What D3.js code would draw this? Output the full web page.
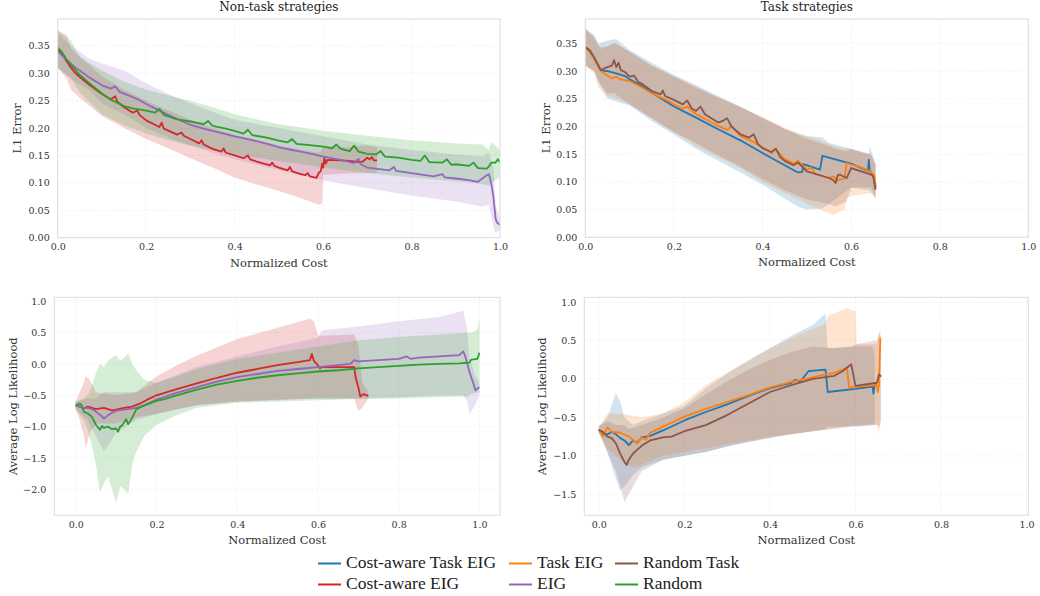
<!DOCTYPE html>
<html>
<head>
<meta charset="utf-8">
<script src="https://cdn.jsdelivr.net/npm/d3@7"></script>
<style>
  body { margin: 0; background: #fff; }
  svg { display: block; }
  .tick text { font-family: "DejaVu Serif", serif; font-size: 9.5px; fill: #333; }
</style>
</head>
<body>
<script>
// ---- data: [x, mean] lines and [x, lo, hi] bands ----

// L1 error, non-task strategies
var l1CostEigLine = [[0,0.343],[0.01,0.335],[0.02,0.322],[0.03,0.31],[0.04,0.3],[0.05,0.293],[0.07,0.28],[0.1,0.262],[0.12,0.252],[0.13,0.258],[0.135,0.248],[0.15,0.238],[0.17,0.228],[0.18,0.232],[0.185,0.224],[0.2,0.214],[0.23,0.202],[0.235,0.21],[0.24,0.199],[0.27,0.188],[0.28,0.192],[0.285,0.186],[0.3,0.18],[0.32,0.172],[0.325,0.178],[0.33,0.17],[0.35,0.162],[0.37,0.157],[0.375,0.163],[0.38,0.155],[0.4,0.15],[0.42,0.145],[0.43,0.15],[0.435,0.143],[0.45,0.139],[0.48,0.132],[0.485,0.137],[0.49,0.131],[0.5,0.128],[0.52,0.123],[0.525,0.129],[0.53,0.121],[0.55,0.116],[0.56,0.114],[0.565,0.118],[0.57,0.112],[0.585,0.109],[0.59,0.118],[0.595,0.122],[0.598,0.135],[0.6,0.128],[0.603,0.145],[0.606,0.135],[0.61,0.142],[0.64,0.141],[0.66,0.14],[0.68,0.138],[0.69,0.139],[0.7,0.146],[0.705,0.143],[0.71,0.147],[0.715,0.141],[0.722,0.141]];
var l1CostEigBand = [[0,0.31,0.378],[0.02,0.29,0.37],[0.03,0.27,0.345],[0.05,0.255,0.33],[0.1,0.222,0.295],[0.15,0.2,0.27],[0.2,0.18,0.25],[0.25,0.163,0.232],[0.3,0.145,0.215],[0.35,0.128,0.2],[0.4,0.11,0.188],[0.45,0.097,0.178],[0.5,0.085,0.168],[0.55,0.072,0.16],[0.59,0.06,0.155],[0.598,0.062,0.16],[0.6,0.115,0.168],[0.65,0.117,0.165],[0.7,0.118,0.168],[0.722,0.118,0.165]];

var l1EigLine = [[0,0.34],[0.02,0.325],[0.04,0.31],[0.05,0.305],[0.07,0.293],[0.1,0.278],[0.12,0.272],[0.13,0.276],[0.14,0.266],[0.15,0.263],[0.18,0.253],[0.2,0.244],[0.22,0.236],[0.25,0.224],[0.28,0.213],[0.3,0.206],[0.33,0.199],[0.35,0.195],[0.38,0.189],[0.4,0.185],[0.43,0.18],[0.45,0.176],[0.48,0.17],[0.5,0.165],[0.53,0.16],[0.55,0.157],[0.58,0.152],[0.6,0.148],[0.62,0.145],[0.65,0.14],[0.67,0.136],[0.68,0.144],[0.685,0.134],[0.7,0.128],[0.75,0.123],[0.76,0.129],[0.765,0.122],[0.8,0.118],[0.85,0.112],[0.87,0.116],[0.875,0.11],[0.9,0.108],[0.93,0.105],[0.95,0.102],[0.96,0.108],[0.97,0.114],[0.975,0.116],[0.98,0.1],[0.985,0.075],[0.99,0.035],[0.993,0.028],[1,0.023]];
var l1EigBand = [[0,0.31,0.372],[0.03,0.29,0.35],[0.07,0.27,0.328],[0.1,0.245,0.318],[0.15,0.225,0.305],[0.2,0.2,0.282],[0.25,0.183,0.262],[0.3,0.168,0.245],[0.35,0.155,0.23],[0.4,0.143,0.215],[0.5,0.123,0.2],[0.6,0.105,0.185],[0.7,0.09,0.17],[0.8,0.077,0.16],[0.9,0.066,0.152],[0.96,0.057,0.148],[0.975,0.06,0.155],[0.985,0.02,0.13],[0.99,0.008,0.06],[1,0.015,0.035]];

var l1RandomLine = [[0,0.347],[0.01,0.338],[0.02,0.325],[0.03,0.315],[0.05,0.297],[0.07,0.283],[0.1,0.263],[0.12,0.252],[0.15,0.24],[0.17,0.236],[0.2,0.232],[0.22,0.228],[0.23,0.235],[0.24,0.224],[0.27,0.216],[0.3,0.212],[0.33,0.207],[0.34,0.213],[0.35,0.204],[0.38,0.199],[0.4,0.195],[0.42,0.19],[0.43,0.197],[0.44,0.187],[0.47,0.183],[0.5,0.177],[0.52,0.174],[0.53,0.18],[0.54,0.171],[0.57,0.169],[0.6,0.166],[0.62,0.163],[0.63,0.17],[0.64,0.162],[0.66,0.158],[0.67,0.168],[0.68,0.157],[0.7,0.153],[0.72,0.152],[0.73,0.158],[0.74,0.148],[0.77,0.146],[0.8,0.142],[0.82,0.14],[0.83,0.15],[0.84,0.138],[0.87,0.137],[0.88,0.143],[0.89,0.133],[0.9,0.134],[0.93,0.131],[0.94,0.137],[0.95,0.127],[0.97,0.126],[0.975,0.13],[0.98,0.137],[0.99,0.137],[0.995,0.143],[1,0.137]];
var l1RandomBand = [[0,0.31,0.378],[0.03,0.29,0.36],[0.05,0.265,0.33],[0.1,0.225,0.305],[0.15,0.205,0.285],[0.2,0.19,0.27],[0.25,0.178,0.26],[0.3,0.168,0.25],[0.35,0.16,0.238],[0.4,0.152,0.225],[0.5,0.14,0.207],[0.6,0.128,0.195],[0.7,0.118,0.186],[0.8,0.11,0.178],[0.9,0.103,0.172],[0.96,0.098,0.17],[0.975,0.095,0.16],[0.98,0.1,0.175],[1,0.11,0.16]];

// L1 error, task strategies
var l1CostTaskEigLine = [[0,0.343],[0.01,0.335],[0.02,0.322],[0.035,0.301],[0.05,0.3],[0.07,0.296],[0.09,0.291],[0.1,0.285],[0.13,0.272],[0.15,0.261],[0.2,0.236],[0.25,0.216],[0.3,0.195],[0.35,0.175],[0.4,0.152],[0.45,0.13],[0.48,0.117],[0.49,0.118],[0.492,0.132],[0.53,0.122],[0.535,0.147],[0.6,0.133],[0.638,0.12],[0.64,0.14],[0.642,0.12],[0.65,0.112],[0.655,0.088]];
var l1CostTaskEigBand = [[0,0.31,0.378],[0.02,0.3,0.365],[0.03,0.28,0.35],[0.05,0.25,0.355],[0.07,0.245,0.358],[0.1,0.238,0.338],[0.15,0.21,0.315],[0.2,0.185,0.293],[0.25,0.16,0.275],[0.3,0.138,0.255],[0.35,0.117,0.236],[0.4,0.095,0.216],[0.45,0.07,0.196],[0.48,0.055,0.187],[0.5,0.05,0.183],[0.535,0.052,0.18],[0.55,0.06,0.17],[0.6,0.09,0.16],[0.64,0.085,0.15],[0.642,0.085,0.165],[0.655,0.07,0.135]];

var l1TaskEigLine = [[0,0.343],[0.01,0.335],[0.02,0.322],[0.035,0.3],[0.05,0.292],[0.06,0.287],[0.07,0.29],[0.08,0.285],[0.1,0.282],[0.12,0.274],[0.15,0.26],[0.18,0.249],[0.2,0.24],[0.22,0.232],[0.23,0.236],[0.25,0.222],[0.28,0.21],[0.3,0.201],[0.32,0.194],[0.33,0.2],[0.35,0.183],[0.38,0.172],[0.4,0.162],[0.42,0.152],[0.43,0.158],[0.45,0.141],[0.47,0.133],[0.48,0.138],[0.5,0.122],[0.51,0.126],[0.52,0.114],[0.55,0.107],[0.56,0.11],[0.57,0.103],[0.585,0.106],[0.59,0.134],[0.6,0.131],[0.62,0.127],[0.645,0.118],[0.652,0.112],[0.656,0.09]];
var l1TaskEigBand = [[0,0.31,0.375],[0.02,0.295,0.362],[0.03,0.27,0.345],[0.05,0.255,0.345],[0.07,0.25,0.35],[0.1,0.24,0.335],[0.15,0.215,0.31],[0.2,0.19,0.29],[0.25,0.165,0.272],[0.3,0.145,0.253],[0.35,0.125,0.235],[0.4,0.1,0.217],[0.45,0.08,0.198],[0.49,0.065,0.185],[0.5,0.06,0.182],[0.53,0.05,0.175],[0.56,0.04,0.165],[0.585,0.05,0.16],[0.59,0.07,0.162],[0.6,0.075,0.158],[0.645,0.08,0.148],[0.656,0.07,0.13]];

var l1RandomTaskLine = [[0,0.343],[0.01,0.338],[0.02,0.325],[0.035,0.302],[0.05,0.307],[0.06,0.31],[0.065,0.32],[0.07,0.307],[0.075,0.315],[0.08,0.302],[0.09,0.298],[0.1,0.29],[0.11,0.292],[0.12,0.28],[0.13,0.276],[0.15,0.264],[0.17,0.258],[0.175,0.265],[0.18,0.255],[0.2,0.248],[0.22,0.24],[0.23,0.247],[0.24,0.233],[0.25,0.228],[0.26,0.236],[0.27,0.222],[0.3,0.207],[0.31,0.21],[0.32,0.215],[0.33,0.2],[0.35,0.186],[0.37,0.18],[0.38,0.186],[0.39,0.168],[0.4,0.161],[0.42,0.154],[0.43,0.16],[0.44,0.145],[0.45,0.138],[0.47,0.13],[0.48,0.135],[0.5,0.119],[0.53,0.112],[0.55,0.107],[0.56,0.103],[0.565,0.098],[0.57,0.112],[0.575,0.113],[0.59,0.107],[0.6,0.125],[0.63,0.117],[0.645,0.113],[0.65,0.11],[0.655,0.086]];
var l1RandomTaskBand = [[0,0.31,0.375],[0.02,0.3,0.36],[0.035,0.275,0.34],[0.05,0.26,0.345],[0.065,0.26,0.352],[0.1,0.24,0.335],[0.15,0.215,0.31],[0.2,0.19,0.29],[0.25,0.17,0.27],[0.3,0.148,0.252],[0.35,0.128,0.235],[0.4,0.105,0.215],[0.45,0.085,0.195],[0.5,0.068,0.178],[0.55,0.06,0.165],[0.565,0.055,0.16],[0.59,0.065,0.155],[0.6,0.09,0.16],[0.645,0.09,0.15],[0.655,0.075,0.13]];

// Average log likelihood, non-task strategies
var llCostEigLine = [[0,-0.66],[0.01,-0.68],[0.02,-0.71],[0.03,-0.68],[0.05,-0.72],[0.07,-0.7],[0.09,-0.74],[0.1,-0.73],[0.12,-0.7],[0.14,-0.68],[0.16,-0.63],[0.18,-0.56],[0.2,-0.5],[0.25,-0.4],[0.3,-0.31],[0.35,-0.22],[0.4,-0.14],[0.45,-0.08],[0.5,-0.02],[0.55,0.03],[0.58,0.06],[0.585,0.16],[0.59,0.05],[0.6,-0.02],[0.605,-0.07],[0.61,-0.05],[0.65,-0.05],[0.69,-0.05],[0.693,-0.2],[0.7,-0.37],[0.705,-0.52],[0.712,-0.48],[0.725,-0.51]];
var llCostEigBand = [[0,-0.72,-0.6],[0.01,-0.9,-0.45],[0.02,-1.15,-0.3],[0.025,-1.35,-0.2],[0.035,-1.1,-0.25],[0.05,-0.95,-0.45],[0.1,-0.95,-0.5],[0.15,-0.85,-0.45],[0.2,-0.8,-0.2],[0.25,-0.72,-0.02],[0.3,-0.66,0.13],[0.4,-0.6,0.4],[0.5,-0.57,0.58],[0.58,-0.55,0.72],[0.59,-0.55,0.68],[0.6,-0.55,0.45],[0.69,-0.55,0.47],[0.7,-0.75,0.3],[0.71,-0.7,-0.3],[0.725,-0.55,-0.45]];

var llEigLine = [[0,-0.66],[0.01,-0.68],[0.02,-0.71],[0.03,-0.7],[0.04,-0.72],[0.05,-0.76],[0.06,-0.81],[0.07,-0.87],[0.08,-0.82],[0.09,-0.78],[0.1,-0.75],[0.12,-0.73],[0.15,-0.7],[0.17,-0.66],[0.2,-0.57],[0.25,-0.46],[0.3,-0.37],[0.35,-0.28],[0.4,-0.21],[0.45,-0.16],[0.5,-0.11],[0.55,-0.08],[0.6,-0.05],[0.65,-0.02],[0.68,0],[0.69,0.06],[0.7,0.04],[0.75,0.06],[0.8,0.08],[0.82,0.12],[0.83,0.08],[0.85,0.1],[0.9,0.12],[0.95,0.14],[0.96,0.2],[0.965,0.12],[0.975,-0.12],[0.985,-0.31],[0.99,-0.42],[1,-0.37]];
var llEigBand = [[0,-0.72,-0.6],[0.03,-0.9,-0.55],[0.05,-1.15,-0.55],[0.07,-1.4,-0.45],[0.09,-1.2,-0.45],[0.1,-1.1,-0.45],[0.15,-0.9,-0.45],[0.2,-0.8,-0.3],[0.3,-0.66,-0.05],[0.4,-0.6,0.12],[0.5,-0.58,0.28],[0.6,-0.55,0.42],[0.61,-0.55,0.54],[0.7,-0.55,0.6],[0.8,-0.53,0.68],[0.9,-0.5,0.75],[0.96,-0.5,0.85],[0.97,-0.6,0.55],[0.975,-0.8,0.1],[0.99,-0.65,-0.2],[1,-0.5,-0.3]];

var llRandomLine = [[0,-0.66],[0.01,-0.63],[0.015,-0.66],[0.02,-0.76],[0.03,-0.79],[0.04,-0.84],[0.05,-0.97],[0.06,-1.05],[0.065,-0.99],[0.07,-1.02],[0.08,-1],[0.09,-1.04],[0.1,-1.03],[0.105,-1.08],[0.11,-1],[0.115,-0.98],[0.12,-0.93],[0.125,-0.88],[0.13,-0.96],[0.14,-0.86],[0.15,-0.72],[0.17,-0.66],[0.2,-0.59],[0.22,-0.56],[0.25,-0.5],[0.3,-0.41],[0.35,-0.33],[0.4,-0.27],[0.45,-0.22],[0.5,-0.18],[0.55,-0.15],[0.6,-0.12],[0.65,-0.1],[0.7,-0.07],[0.75,-0.05],[0.8,-0.03],[0.85,-0.01],[0.9,0],[0.95,0.01],[0.975,0.02],[0.98,0.07],[0.995,0.08],[1,0.18]];
var llRandomBand = [[0,-0.72,-0.6],[0.02,-0.9,-0.55],[0.03,-1.05,-0.5],[0.04,-1.3,-0.35],[0.05,-1.6,-0.15],[0.06,-2.05,0],[0.07,-1.9,-0.05],[0.08,-1.8,0.05],[0.09,-2,0.1],[0.1,-2.22,0.14],[0.11,-1.95,0.05],[0.12,-2,0.1],[0.13,-2.08,0.17],[0.14,-1.6,0],[0.15,-1.4,-0.1],[0.17,-1.15,-0.25],[0.2,-0.97,-0.3],[0.25,-0.82,-0.2],[0.3,-0.7,-0.08],[0.4,-0.62,0.08],[0.5,-0.6,0.18],[0.6,-0.58,0.28],[0.7,-0.56,0.38],[0.8,-0.55,0.43],[0.9,-0.53,0.47],[0.97,-0.52,0.5],[0.98,-0.48,0.5],[0.995,-0.45,0.55],[1,-0.45,0.72]];

// Average log likelihood, task strategies
var llCostTaskEigLine = [[0,-0.66],[0.01,-0.72],[0.02,-0.72],[0.03,-0.69],[0.04,-0.72],[0.05,-0.77],[0.06,-0.8],[0.07,-0.86],[0.08,-0.8],[0.09,-0.83],[0.1,-0.76],[0.12,-0.74],[0.15,-0.67],[0.2,-0.54],[0.25,-0.43],[0.3,-0.33],[0.35,-0.22],[0.4,-0.12],[0.45,-0.05],[0.46,-0.01],[0.47,-0.04],[0.49,0.1],[0.53,0.12],[0.535,-0.17],[0.6,-0.13],[0.64,-0.1],[0.642,-0.19],[0.645,-0.08],[0.65,-0.08]];
var llCostTaskEigBand = [[0,-0.7,-0.62],[0.02,-0.95,-0.5],[0.04,-1.3,-0.18],[0.05,-1.45,-0.3],[0.06,-1.4,-0.5],[0.08,-1.25,-0.6],[0.1,-1.15,-0.55],[0.15,-1.05,-0.45],[0.2,-1,-0.35],[0.25,-0.95,-0.12],[0.3,-0.88,0.07],[0.35,-0.82,0.24],[0.4,-0.76,0.4],[0.45,-0.72,0.56],[0.5,-0.68,0.7],[0.53,-0.65,0.85],[0.535,-0.62,0.4],[0.6,-0.62,0.42],[0.64,-0.6,0.42],[0.645,-0.6,0.3]];

var llTaskEigLine = [[0,-0.66],[0.01,-0.75],[0.02,-0.63],[0.03,-0.69],[0.05,-0.7],[0.07,-0.75],[0.09,-0.84],[0.1,-0.76],[0.11,-0.79],[0.12,-0.7],[0.15,-0.62],[0.2,-0.49],[0.25,-0.39],[0.3,-0.3],[0.35,-0.21],[0.4,-0.11],[0.45,-0.04],[0.5,0.02],[0.52,0.05],[0.55,0.08],[0.57,0.12],[0.58,0.15],[0.585,-0.11],[0.6,-0.1],[0.65,-0.08],[0.652,-0.17],[0.655,-0.08],[0.658,0.53]];
var llTaskEigBand = [[0,-0.7,-0.62],[0.02,-0.9,-0.45],[0.05,-1.05,-0.45],[0.08,-1.15,-0.48],[0.1,-1.12,-0.5],[0.15,-1,-0.45],[0.2,-0.95,-0.3],[0.25,-0.9,-0.08],[0.3,-0.85,0.08],[0.35,-0.8,0.24],[0.4,-0.75,0.4],[0.45,-0.72,0.53],[0.5,-0.68,0.65],[0.53,-0.66,0.72],[0.535,-0.65,0.82],[0.58,-0.62,0.92],[0.6,-0.6,0.88],[0.603,-0.6,0.45],[0.65,-0.58,0.45],[0.655,-0.7,0.6],[0.658,-0.6,0.65]];

var llRandomTaskLine = [[0,-0.66],[0.01,-0.69],[0.02,-0.75],[0.03,-0.77],[0.04,-0.84],[0.05,-0.97],[0.06,-1.08],[0.065,-1.12],[0.07,-1.05],[0.08,-0.97],[0.09,-0.92],[0.1,-0.87],[0.12,-0.8],[0.15,-0.76],[0.17,-0.75],[0.2,-0.68],[0.25,-0.6],[0.3,-0.47],[0.35,-0.32],[0.4,-0.17],[0.45,-0.08],[0.5,0],[0.55,0.04],[0.57,0.1],[0.59,0.19],[0.6,-0.09],[0.65,-0.05],[0.655,0.06],[0.66,0.03]];
var llRandomTaskBand = [[0,-0.7,-0.62],[0.02,-0.95,-0.55],[0.04,-1.2,-0.6],[0.06,-1.6,-0.6],[0.07,-1.5,-0.65],[0.1,-1.2,-0.6],[0.15,-1.05,-0.5],[0.2,-1,-0.38],[0.25,-0.95,-0.2],[0.3,-0.88,-0.03],[0.35,-0.82,0.12],[0.4,-0.77,0.25],[0.45,-0.72,0.35],[0.5,-0.68,0.42],[0.55,-0.65,0.4],[0.59,-0.62,0.42],[0.6,-0.62,0.45],[0.65,-0.6,0.5],[0.655,-0.62,0.6],[0.66,-0.55,0.55]];

// tick values
var xTicks = [0, 0.2, 0.4, 0.6, 0.8, 1.0];
var l1Ticks = [0, 0.05, 0.1, 0.15, 0.2, 0.25, 0.3, 0.35];
var llTicksNonTask = [-2.0, -1.5, -1.0, -0.5, 0.0, 0.5, 1.0];
var llTicksTask = [-1.5, -1.0, -0.5, 0.0, 0.5, 1.0];

// legend, in column-major order (2 rows x 3 cols)
var legendNames = ["Cost-aware Task EIG", "Cost-aware EIG", "Task EIG", "EIG", "Random Task", "Random"];
var colors = {
  "Cost-aware Task EIG": "#1f77b4",
  "Cost-aware EIG": "#d62728",
  "Task EIG": "#ff7f0e",
  "EIG": "#9467bd",
  "Random Task": "#8c564b",
  "Random": "#2ca02c"
};

var panels = [
  { left: 57.7, right: 500, top: 19, bottom: 237.7, xDom: [0, 1], yDom: [0, 0.399],
    yTicks: l1Ticks, yFmt: ".2f", ylabel: "L1 Error", ylabelX: 18, title: "Non-task strategies",
    series: [["Cost-aware EIG", l1CostEigLine, l1CostEigBand], ["EIG", l1EigLine, l1EigBand], ["Random", l1RandomLine, l1RandomBand]] },
  { left: 585.3, right: 1028.3, top: 19, bottom: 237.3, xDom: [0, 1], yDom: [0, 0.394],
    yTicks: l1Ticks, yFmt: ".2f", ylabel: "L1 Error", ylabelX: 546.5, title: "Task strategies",
    series: [["Cost-aware Task EIG", l1CostTaskEigLine, l1CostTaskEigBand], ["Task EIG", l1TaskEigLine, l1TaskEigBand], ["Random Task", l1RandomTaskLine, l1RandomTaskBand]] },
  { left: 54.3, right: 500, top: 297.3, bottom: 515.3, xDom: [-0.053, 1.051], yDom: [-2.415, 1.064],
    yTicks: llTicksNonTask, yFmt: ".1f", ylabel: "Average Log Likelihood", ylabelX: 14, title: null,
    series: [["Cost-aware EIG", llCostEigLine, llCostEigBand], ["EIG", llEigLine, llEigBand], ["Random", llRandomLine, llRandomBand]] },
  { left: 584.3, right: 1028.3, top: 297.3, bottom: 515.3, xDom: [-0.034, 1.004], yDom: [-1.773, 1.061],
    yTicks: llTicksTask, yFmt: ".1f", ylabel: "Average Log Likelihood", ylabelX: 543, title: null,
    series: [["Cost-aware Task EIG", llCostTaskEigLine, llCostTaskEigBand], ["Task EIG", llTaskEigLine, llTaskEigBand], ["Random Task", llRandomTaskLine, llRandomTaskBand]] }
];

var svg = d3.select("body").append("svg")
  .attr("width", 1040)
  .attr("height", 596);

panels.forEach(function(p, i) {
  var x = d3.scaleLinear().domain(p.xDom).range([p.left, p.right]);
  var y = d3.scaleLinear().domain(p.yDom).range([p.bottom, p.top]);
  var g = svg.append("g");

  g.append("clipPath").attr("id", "clip" + i)
    .append("rect")
    .attr("x", p.left).attr("y", p.top)
    .attr("width", p.right - p.left).attr("height", p.bottom - p.top);

  // faint dashed grid
  g.selectAll(".vgrid").data(xTicks).enter().append("line")
    .attr("x1", function(d) { return x(d); }).attr("x2", function(d) { return x(d); })
    .attr("y1", p.top).attr("y2", p.bottom)
    .attr("stroke", "#f0f0f0").attr("stroke-width", 0.8).attr("stroke-dasharray", "2.5,2");
  g.selectAll(".hgrid").data(p.yTicks).enter().append("line")
    .attr("x1", p.left).attr("x2", p.right)
    .attr("y1", function(d) { return y(d); }).attr("y2", function(d) { return y(d); })
    .attr("stroke", "#f0f0f0").attr("stroke-width", 0.8).attr("stroke-dasharray", "2.5,2");

  var plot = g.append("g").attr("clip-path", "url(#clip" + i + ")");

  var area = d3.area()
    .x(function(d) { return x(d[0]); })
    .y0(function(d) { return y(d[1]); })
    .y1(function(d) { return y(d[2]); });
  var line = d3.line()
    .x(function(d) { return x(d[0]); })
    .y(function(d) { return y(d[1]); });

  p.series.forEach(function(s) {
    plot.append("path")
      .attr("d", area(s[2]))
      .attr("fill", colors[s[0]])
      .attr("fill-opacity", 0.2);
  });
  p.series.forEach(function(s) {
    plot.append("path")
      .attr("d", line(s[1]))
      .attr("fill", "none")
      .attr("stroke", colors[s[0]])
      .attr("stroke-width", 1.8)
      .attr("stroke-linejoin", "round");
  });

  // frame
  g.append("rect")
    .attr("x", p.left).attr("y", p.top)
    .attr("width", p.right - p.left).attr("height", p.bottom - p.top)
    .attr("fill", "none").attr("stroke", "#dcdcdc").attr("stroke-width", 1);

  // axes
  var xAxis = g.append("g")
    .attr("transform", "translate(0," + p.bottom + ")")
    .call(d3.axisBottom(x).tickValues(xTicks).tickFormat(d3.format(".1f")).tickSize(0).tickPadding(6));
  xAxis.select(".domain").remove();

  var yAxis = g.append("g")
    .attr("transform", "translate(" + p.left + ",0)")
    .call(d3.axisLeft(y).tickValues(p.yTicks).tickFormat(d3.format(p.yFmt)).tickSize(0).tickPadding(8));
  yAxis.select(".domain").remove();

  g.append("text")
    .attr("x", (p.left + p.right) / 2).attr("y", p.bottom + 26)
    .attr("text-anchor", "middle").attr("dominant-baseline", "middle")
    .style("font-family", "DejaVu Serif, serif").style("font-size", "11.5px").style("fill", "#333")
    .text("Normalized Cost");

  g.append("text")
    .attr("transform", "translate(" + p.ylabelX + "," + ((p.top + p.bottom) / 2) + ") rotate(-90)")
    .attr("text-anchor", "middle").attr("dominant-baseline", "middle")
    .style("font-family", "DejaVu Serif, serif").style("font-size", "11.5px").style("fill", "#333")
    .text(p.ylabel);

  if (p.title) {
    g.append("text")
      .attr("x", (p.left + p.right) / 2).attr("y", 7.5)
      .attr("text-anchor", "middle").attr("dominant-baseline", "middle")
      .style("font-family", "DejaVu Serif, serif").style("font-size", "12px").style("fill", "#222")
      .text(p.title);
  }
});

// legend
var legendCols = [318, 509, 615];
var legendRows = [563.5, 584.5];
var leg = svg.append("g");
legendNames.forEach(function(name, k) {
  var cx = legendCols[Math.floor(k / 2)];
  var cy = legendRows[k % 2];
  leg.append("line")
    .attr("x1", cx).attr("x2", cx + 23)
    .attr("y1", cy).attr("y2", cy)
    .attr("stroke", colors[name]).attr("stroke-width", 2);
  leg.append("text")
    .attr("x", cx + 28).attr("y", cy)
    .attr("dominant-baseline", "middle")
    .style("font-family", "Liberation Serif, serif").style("font-size", "17.5px").style("fill", "#222")
    .text(name);
});
</script>
</body>
</html>
